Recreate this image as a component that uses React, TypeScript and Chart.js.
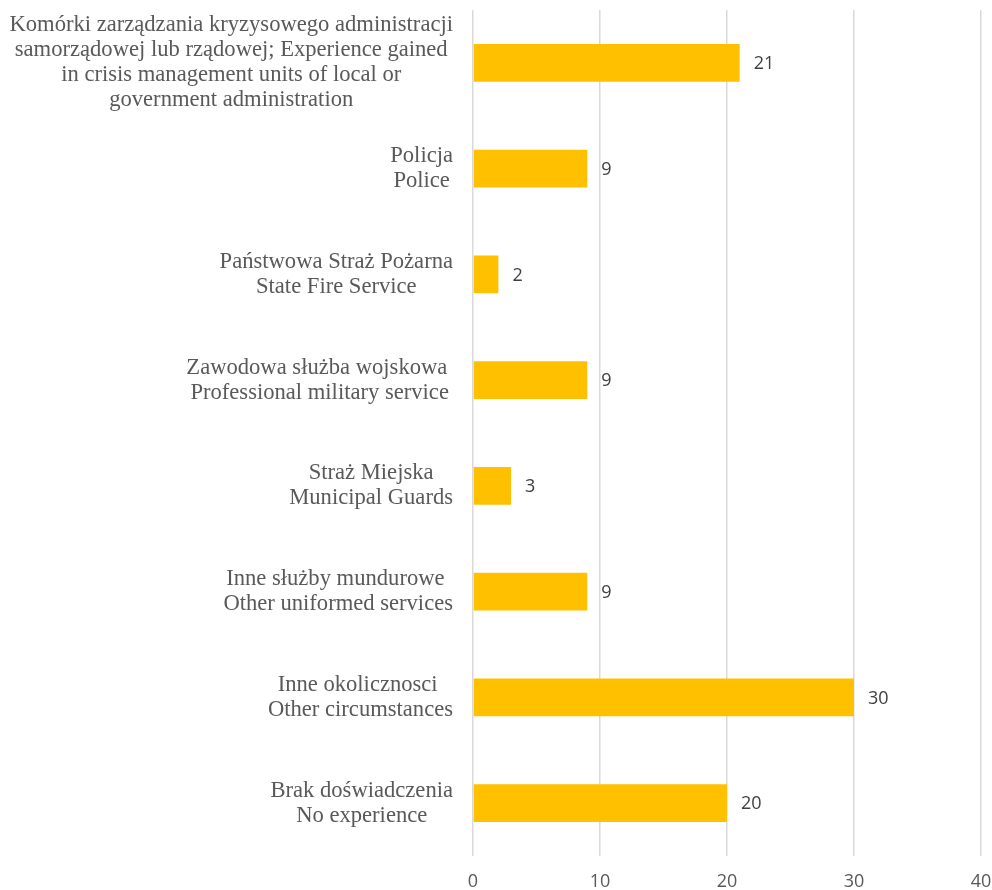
import React, { useEffect, useRef } from "react";
import { Chart, registerables } from "chart.js";

Chart.register(...registerables);

const categories: string[][] = [
  [
    "Komórki zarządzania kryzysowego administracji",
    "samorządowej lub rządowej; Experience gained",
    "in crisis management units of local or",
    "government administration",
  ],
  ["Policja", "Police"],
  ["Państwowa Straż Pożarna", "State Fire Service"],
  ["Zawodowa służba wojskowa ", "Professional military service"],
  ["Straż Miejska", "Municipal Guards"],
  ["Inne służby mundurowe ", "Other uniformed services"],
  ["Inne okolicznosci ", "Other circumstances"],
  ["Brak doświadczenia", "No experience"],
];
const values: number[] = [21, 9, 2, 9, 3, 9, 30, 20];
const xMin = 0;
const xMax = 40;
const xStep = 10;

const BAR_COLOR = "#FFC000";
const TEXT_COLOR = "#595959";
const VALUE_COLOR = "#404040";

const catLabelPlugin = {
  id: "catLabels",
  afterDraw(chart: any) {
    const ctx = chart.ctx as CanvasRenderingContext2D;
    const yScale = chart.scales.y;
    const area = chart.chartArea;
    ctx.save();
    ctx.font = "22.6px 'Liberation Serif', 'Times New Roman', serif";
    ctx.fillStyle = TEXT_COLOR;
    ctx.textAlign = "center";
    ctx.textBaseline = "middle";
    const lh = 25;
    categories.forEach((lines, i) => {
      const cy = yScale.getPixelForValue(i);
      const maxW = Math.max(...lines.map((l) => ctx.measureText(l).width));
      const cx = area.left - 20 - maxW / 2;
      lines.forEach((l, j) => {
        ctx.fillText(l, cx, cy + (j - (lines.length - 1) / 2) * lh);
      });
    });
    ctx.restore();
  },
};

const valueLabelPlugin = {
  id: "valueLabels",
  afterDatasetsDraw(chart: any) {
    const ctx = chart.ctx as CanvasRenderingContext2D;
    const meta = chart.getDatasetMeta(0);
    ctx.save();
    ctx.font = "18px 'Open Sans', sans-serif";
    ctx.fillStyle = VALUE_COLOR;
    ctx.textAlign = "left";
    ctx.textBaseline = "middle";
    meta.data.forEach((bar: any, i: number) => {
      ctx.fillText(String(values[i]), bar.x + 14, bar.y + 1);
    });
    ctx.restore();
  },
};

export default function App() {
  const canvasRef = useRef<HTMLCanvasElement | null>(null);

  useEffect(() => {
    if (!canvasRef.current) return;
    const chart = new Chart(canvasRef.current, {
      type: "bar",
      data: {
        labels: categories.map((l) => l.join(" ")),
        datasets: [
          {
            data: values,
            backgroundColor: BAR_COLOR,
            borderWidth: 0,
            categoryPercentage: 1,
            barPercentage: 0.355,
          },
        ],
      },
      options: {
        indexAxis: "y",
        animation: false,
        responsive: true,
        maintainAspectRatio: false,
        layout: { padding: { top: 2, left: 0, right: 0, bottom: 0 } },
        plugins: {
          legend: { display: false },
          tooltip: { enabled: false },
        },
        scales: {
          x: {
            min: xMin,
            max: xMax,
            ticks: {
              stepSize: xStep,
              color: TEXT_COLOR,
              font: { family: "'Open Sans', sans-serif", size: 18 },
              padding: 15,
            },
            grid: { color: "#d9d9d9", lineWidth: 1.5, drawTicks: false },
            border: { display: false },
            afterFit: (scale: any) => {
              scale.height = 34;
              scale.paddingLeft = 0;
              scale.paddingRight = 11;
            },
          },
          y: {
            ticks: { display: false },
            grid: { display: false },
            border: { display: false },
            afterFit: (scale: any) => {
              scale.width = 465;
            },
          },
        },
      },
      plugins: [catLabelPlugin, valueLabelPlugin],
    });
    return () => chart.destroy();
  }, []);

  return (
    <div style={{ position: "absolute", left: 8, top: 8, width: 984, height: 882 }}>
      <canvas ref={canvasRef} />
    </div>
  );
}
